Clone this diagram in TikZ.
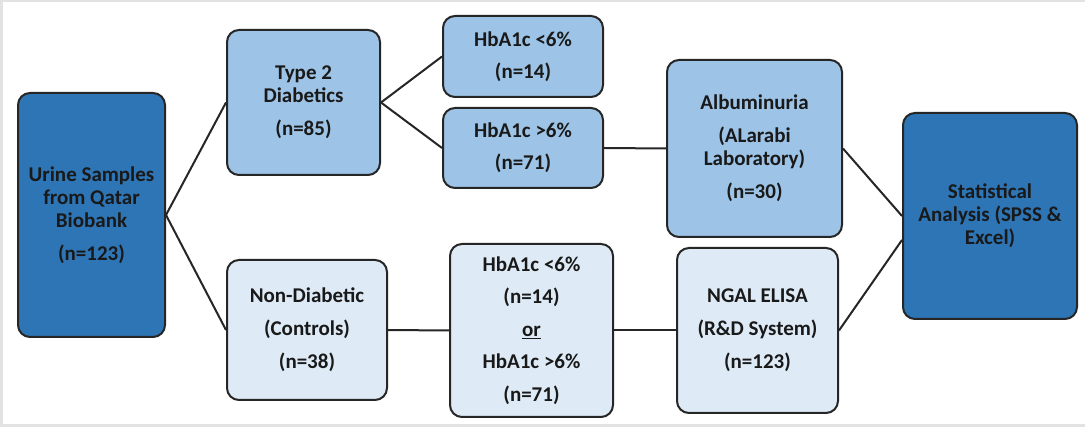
\documentclass[tikz,border=0pt]{standalone}
\usepackage{fontspec}
\setmainfont{Carlito}
\usepackage{tikz}
\usetikzlibrary{calc}

\definecolor{darkblue}{HTML}{2E75B6}
\definecolor{midblue}{HTML}{9DC3E6}
\definecolor{paleblue}{HTML}{DEEBF7}
\definecolor{framegray}{HTML}{E2E2E2}

\tikzset{
  box/.style={draw=black!85, line width=2pt, rounded corners=12pt, align=center,
    inner sep=0pt, font=\fontsize{21}{23}\selectfont\bfseries, text=black!90},
  darkbox/.style={box, fill=darkblue},
  midbox/.style={box, fill=midblue},
  palebox/.style={box, fill=paleblue},
  link/.style={line width=2pt, draw=black!85}
}

\begin{document}
\begin{tikzpicture}[x=1pt, y=-1pt]
\fill[framegray] (0,0) rectangle (1085,427);
\fill[white] (3,2) rectangle (1085,424);
\useasboundingbox (0,0) rectangle (1085,427);

\node[darkbox, minimum width=147pt, minimum height=244pt] (urine) at (91.5,215)
  {Urine Samples\\from Qatar\\Biobank\\[10pt](n=123)};
\node[midbox, minimum width=153pt, minimum height=145pt] (diab) at (303.5,102.5)
  {Type 2\\Diabetics\\[10pt](n=85)};
\node[palebox, minimum width=160pt, minimum height=140pt] (nondiab) at (307,330)
  {Non-Diabetic\\[10pt](Controls)\\[10pt](n=38)};
\node[midbox, minimum width=160pt, minimum height=81pt] (hblow) at (523,56.5)
  {HbA1c <6\%\\[9pt](n=14)};
\node[midbox, minimum width=160pt, minimum height=80pt] (hbhigh) at (523,148)
  {HbA1c >6\%\\[9pt](n=71)};
\node[palebox, minimum width=163pt, minimum height=173pt] (hbmix) at (531.5,330.5)
  {HbA1c <6\%\\[9.5pt](n=14)\\[9.5pt]\underline{or}\\[9.5pt]HbA1c >6\%\\[9.5pt](n=71)};
\node[midbox, minimum width=175pt, minimum height=177pt] (albu) at (754.5,148.5)
  {Albuminuria\\[10pt](ALarabi\\Laboratory)\\[10pt](n=30)};
\node[palebox, minimum width=161pt, minimum height=165pt] (ngal) at (757.5,330.5)
  {NGAL ELISA\\[10pt](R\&D System)\\[10pt](n=123)};
\node[darkbox, minimum width=174pt, minimum height=206pt] (stats) at (990,216)
  {Statistical\\Analysis (SPSS \&\\Excel)};

\draw[link] (urine.east) -- (diab.west);
\draw[link] (urine.east) -- (nondiab.west);
\draw[link] (diab.east) -- (hblow.west);
\draw[link] (diab.east) -- (hbhigh.west);
\draw[link] (hbhigh.east) -- (albu.west);
\draw[link] (nondiab.east) -- (hbmix.west);
\draw[link] (hbmix.east) -- (ngal.west);
\draw[link] (albu.east) -- (stats.west);
\draw[link] (ngal.east) -- ([yshift=-24pt]stats.west);
\end{tikzpicture}
\end{document}
